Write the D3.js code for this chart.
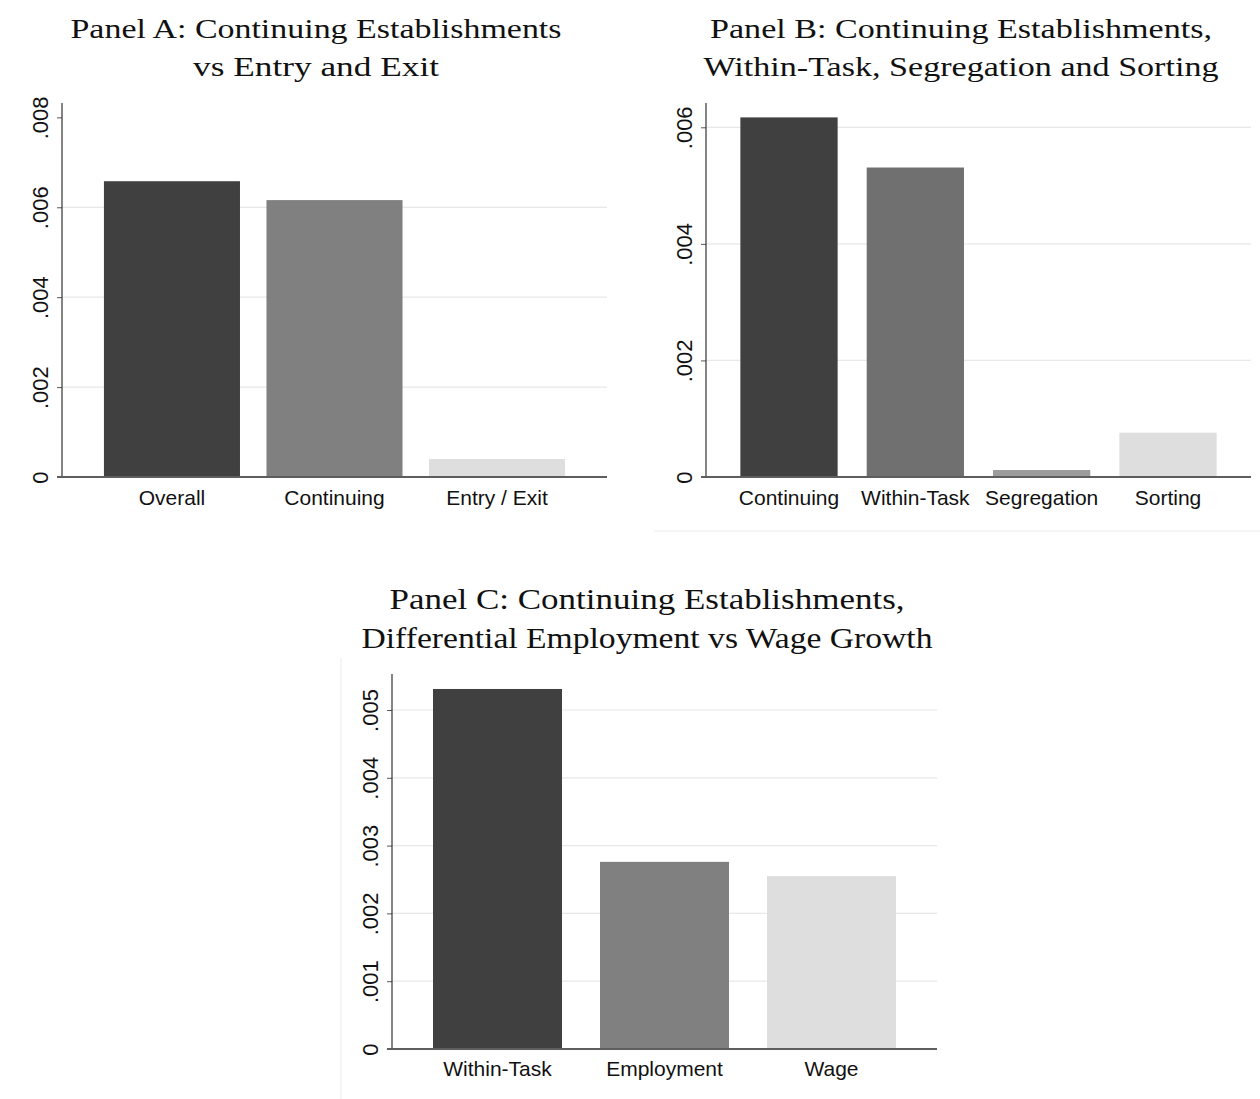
<!DOCTYPE html>
<html>
<head>
<meta charset="utf-8">
<script src="https://cdn.jsdelivr.net/npm/d3@7"></script>
<style>
  html, body { margin: 0; padding: 0; background: #fff; }
  svg { display: block; }
</style>
</head>
<body>
<svg id="chart" width="1260" height="1099"></svg>
<script>
// Panel A: overall contribution split into continuing establishments and entry/exit
const panelACategories = ["Overall", "Continuing", "Entry / Exit"];
const panelAValues = [0.00658, 0.00616, 0.00040];
const panelATicks = [0, 0.002, 0.004, 0.006, 0.008];
const panelATickLabels = ["0", ".002", ".004", ".006", ".008"];
const panelAGrid = [0.002, 0.004, 0.006];
const panelAColors = ["#404040", "#808080", "#dedede"];
const panelATitle = ["Panel A: Continuing Establishments", "vs Entry and Exit"];

// Panel B: continuing establishments decomposed
const panelBCategories = ["Continuing", "Within-Task", "Segregation", "Sorting"];
const panelBValues = [0.00617, 0.00531, 0.00012, 0.00076];
const panelBTicks = [0, 0.002, 0.004, 0.006];
const panelBTickLabels = ["0", ".002", ".004", ".006"];
const panelBGrid = [0.002, 0.004, 0.006];
const panelBColors = ["#404040", "#707070", "#9c9c9c", "#dedede"];
const panelBTitle = ["Panel B: Continuing Establishments,", "Within-Task, Segregation and Sorting"];

// Panel C: within-task term split into employment and wage growth
const panelCCategories = ["Within-Task", "Employment", "Wage"];
const panelCValues = [0.00531, 0.00276, 0.00255];
const panelCTicks = [0, 0.001, 0.002, 0.003, 0.004, 0.005];
const panelCTickLabels = ["0", ".001", ".002", ".003", ".004", ".005"];
const panelCGrid = [0.001, 0.002, 0.003, 0.004, 0.005];
const panelCColors = ["#404040", "#808080", "#dedede"];
const panelCTitle = ["Panel C: Continuing Establishments,", "Differential Employment vs Wage Growth"];

const svg = d3.select("#chart");

// faint frame edges left over from the combined panels
svg.append("line").attr("x1", 654).attr("x2", 1260).attr("y1", 531).attr("y2", 531)
  .attr("stroke", "#ececec").attr("stroke-width", 1);
svg.append("line").attr("x1", 341).attr("x2", 341).attr("y1", 658).attr("y2", 1099)
  .attr("stroke", "#ececec").attr("stroke-width", 1);

function drawPanel(cfg) {
  const g = svg.append("g");
  const { left, right, top, bottom } = cfg.frame;

  const y = d3.scaleLinear().domain([0, cfg.yMax]).range([bottom, top]);
  const x = d3.scaleBand().domain(cfg.categories).range([left, right])
    .paddingInner(cfg.padInner).paddingOuter(cfg.padOuter);

  // horizontal gridlines
  g.append("g").selectAll("line").data(cfg.grid).join("line")
    .attr("x1", left).attr("x2", right)
    .attr("y1", d => y(d)).attr("y2", d => y(d))
    .attr("stroke", "#e8e8e8").attr("stroke-width", 1.2);

  // bars
  g.append("g").selectAll("rect").data(cfg.values).join("rect")
    .attr("x", (d, i) => x(cfg.categories[i]))
    .attr("width", x.bandwidth())
    .attr("y", d => y(d))
    .attr("height", d => bottom - y(d))
    .attr("fill", (d, i) => cfg.colors[i]);

  // y axis with rotated tick labels
  const yAxis = g.append("g").attr("transform", `translate(${left},0)`)
    .call(d3.axisLeft(y).tickValues(cfg.ticks)
      .tickFormat((d, i) => cfg.tickLabels[i]).tickSize(5).tickPadding(0));
  yAxis.select(".domain").remove();
  yAxis.selectAll(".tick line").attr("stroke", "#555").attr("stroke-width", 1);
  yAxis.selectAll(".tick text")
    .attr("x", 0).attr("dy", 0)
    .attr("transform", "translate(-14.5,0) rotate(-90)")
    .attr("text-anchor", "middle")
    .attr("font-family", "'Liberation Sans', Arial, sans-serif")
    .attr("font-size", 22).attr("fill", "#111");
  g.append("line").attr("x1", left).attr("x2", left).attr("y1", top).attr("y2", bottom)
    .attr("stroke", "#333").attr("stroke-width", 1.2);

  // x axis with category labels
  const xAxis = g.append("g").attr("transform", `translate(0,${bottom})`)
    .call(d3.axisBottom(x).tickSize(0));
  xAxis.select(".domain").remove();
  xAxis.selectAll(".tick text")
    .attr("y", cfg.labelOffset).attr("dy", 0)
    .attr("font-family", "'Liberation Sans', Arial, sans-serif")
    .attr("font-size", 21).attr("fill", "#111");
  g.append("line").attr("x1", left - 5).attr("x2", right).attr("y1", bottom).attr("y2", bottom)
    .attr("stroke", "#5e5e5e").attr("stroke-width", 2);

  // two-line title
  cfg.title.forEach((t, i) => {
    g.append("text")
      .attr("x", cfg.titleX).attr("y", cfg.titleY[i])
      .attr("text-anchor", "middle")
      .attr("font-family", "'Liberation Serif', 'Times New Roman', serif")
      .attr("font-size", cfg.titleSize).attr("fill", "#111")
      .attr("textLength", cfg.titleWidths[i]).attr("lengthAdjust", "spacingAndGlyphs")
      .text(t);
  });
}

drawPanel({
  categories: panelACategories, values: panelAValues, ticks: panelATicks,
  tickLabels: panelATickLabels, grid: panelAGrid, colors: panelAColors, title: panelATitle,
  frame: { left: 62, right: 607, top: 103, bottom: 477 }, yMax: 0.00832,
  padInner: 0.163, padOuter: 0.258, labelOffset: 28,
  titleX: 316, titleY: [38, 76], titleSize: 28, titleWidths: [491, 246]
});

drawPanel({
  categories: panelBCategories, values: panelBValues, ticks: panelBTicks,
  tickLabels: panelBTickLabels, grid: panelBGrid, colors: panelBColors, title: panelBTitle,
  frame: { left: 706, right: 1251, top: 103, bottom: 477 }, yMax: 0.006417,
  padInner: 0.23, padOuter: 0.272, labelOffset: 28,
  titleX: 961, titleY: [38, 76], titleSize: 28, titleWidths: [502, 515]
});

drawPanel({
  categories: panelCCategories, values: panelCValues, ticks: panelCTicks,
  tickLabels: panelCTickLabels, grid: panelCGrid, colors: panelCColors, title: panelCTitle,
  frame: { left: 392, right: 937, top: 674, bottom: 1049 }, yMax: 0.005531,
  padInner: 0.2275, padOuter: 0.2455, labelOffset: 27,
  titleX: 647, titleY: [609, 648], titleSize: 29, titleWidths: [515, 571]
});
</script>
</body>
</html>
